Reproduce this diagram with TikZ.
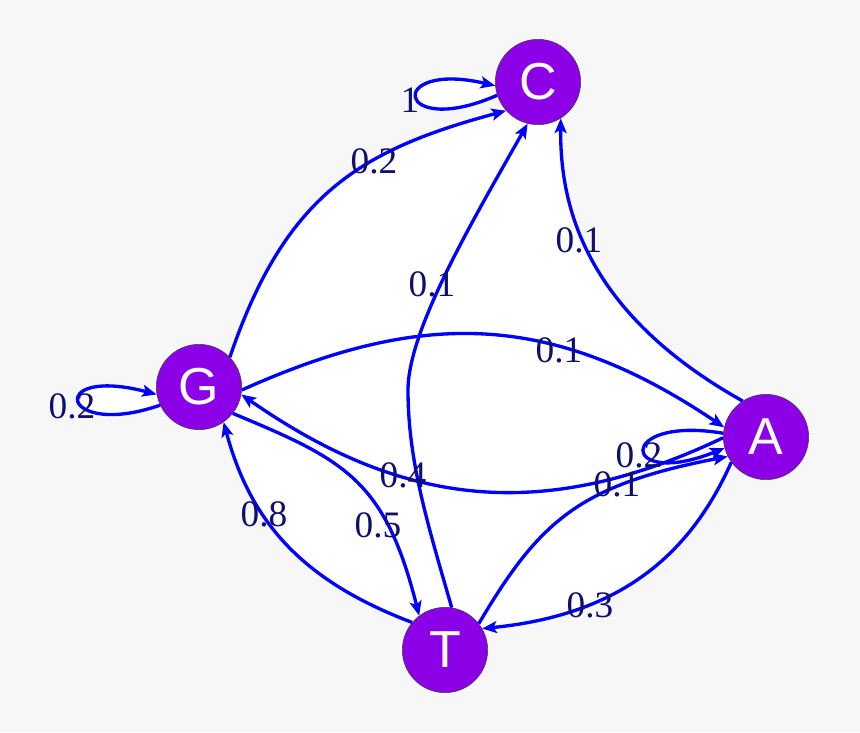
\documentclass[tikz,border=0pt]{standalone}
\usepackage{fontspec}
\setmainfont{Liberation Serif}
\newfontfamily\nodefont{Liberation Sans}
\usetikzlibrary{arrows.meta,backgrounds}
\definecolor{bgc}{HTML}{F7F7F7}
\definecolor{nodec}{HTML}{8C00E8}
\definecolor{edgec}{HTML}{0000FF}
\definecolor{labc}{HTML}{10106A}
\begin{document}
\begin{tikzpicture}[x=0.75pt,y=-0.75pt,
  state/.style={circle,fill=nodec,draw=black!75,line width=0.4pt,minimum size=64pt,inner sep=0pt,
    font=\nodefont\fontsize{39}{39}\selectfont,text=white},
  edge/.style={draw=edgec,line width=2.5pt,-{Stealth[length=11pt,width=9pt,inset=2.5pt]}},
  lab/.style={font=\fontsize{28}{28}\selectfont,text=labc,inner sep=0pt}]
\useasboundingbox (0,0) rectangle (860,732);
% nodes
\node[state] (C) at (538,82) {C};
\node[state] (G) at (199,387) {G};
\node[state] (A) at (766,437) {A};
\node[state] (T) at (445,650) {T};
% background
\begin{scope}[on background layer]
  \fill[bgc] (0,0) rectangle (860,732);
  \fill[white] (G.44) .. controls (285,195) and (360,150) .. (C.222)
    -- (C.302) .. controls (560,200) and (580,310) .. (A.123)
    -- (A.216) .. controls (690,555) and (620,615) .. (T.30)
    -- (T.140) .. controls (300,580) and (250,520) .. (G.305) -- cycle;
  \fill[white] (C.198) .. controls (395,140) and (385,60) .. (C.185) -- cycle;
  \fill[white] (G.205) .. controls (60,440) and (45,365) .. (G.190) -- cycle;
  \fill[white] (A.175) .. controls (615,415) and (620,490) .. (A.195) -- cycle;
\end{scope}
% edges
\draw[edge] (C.198) .. controls (395,140) and (385,60) .. (C.185);
\draw[edge] (G.44) .. controls (285,195) and (360,150) .. (C.222);
\draw[edge] (T.81) .. controls (427,522) and (408,460) .. (408,390)
  .. controls (408,330) and (473,220) .. (C.256);
\draw[edge] (A.123) .. controls (580,310) and (560,200) .. (C.302);
\draw[edge] (G.356) .. controls (420,310) and (550,310) .. (A.167);
\draw[edge] (A.181) .. controls (540,525) and (400,505) .. (G.350);
\draw[edge] (A.175) .. controls (615,415) and (620,490) .. (A.195);
\draw[edge] (T.38) .. controls (540,520) and (580,485) .. (A.207);
\draw[edge] (A.216) .. controls (690,555) and (620,615) .. (T.30);
\draw[edge] (G.322) .. controls (345,460) and (385,480) .. (T.127);
\draw[edge] (T.140) .. controls (300,580) and (250,520) .. (G.305);
\draw[edge] (G.205) .. controls (60,440) and (45,365) .. (G.190);
% labels
\node[lab] (l1) at (410,100) {1};
\node[lab] (l2) at (374,161) {0.2};
\node[lab] (l3) at (432,284) {0.1};
\node[lab] (l4) at (579,240) {0.1};
\node[lab] (l5) at (559,350) {0.1};
\node[lab] (l6) at (403,475) {0.4};
\node[lab] (l7) at (639,455) {0.2};
\node[lab] (l8) at (617,484) {0.1};
\node[lab] (l9) at (590,605) {0.3};
\node[lab] (l10) at (378,525) {0.5};
\node[lab] (l11) at (264,514) {0.8};
\node[lab] (l12) at (72,406) {0.2};
\end{tikzpicture}
\end{document}
